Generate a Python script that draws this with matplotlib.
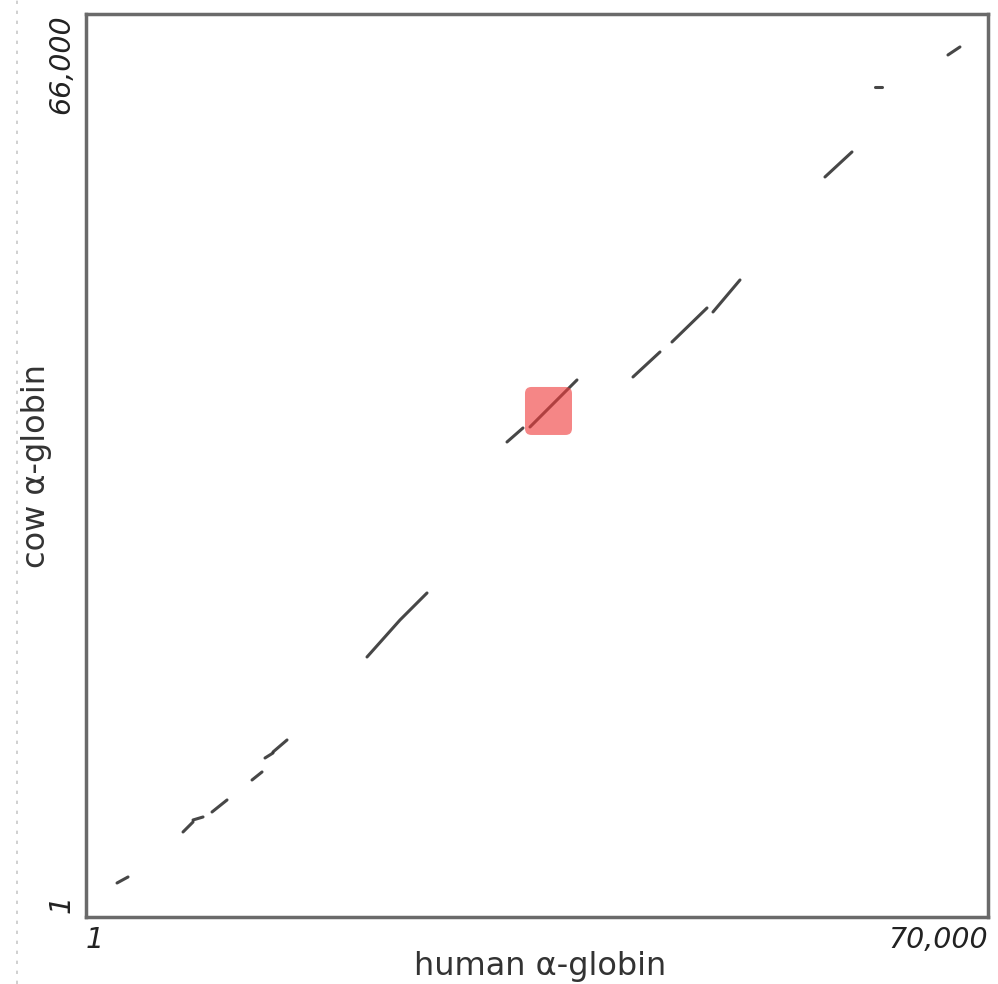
import matplotlib.pyplot as plt
import numpy as np
from matplotlib.patches import FancyBboxPatch
from matplotlib.lines import Line2D

# dot plot alignment segments (human position, cow position)
seg_x = [
    [2406, 3259],
    [7527, 8303],
    [8303, 9079],
    [9778, 10942],
    [12882, 13658],
    [13890, 14511],
    [14511, 15598],
    [21806, 24366, 26462],
    [32670, 33911],
    [34454, 38101],
    [42447, 44542],
    [45474, 48190],
    [48656, 50751],
    [57346, 59442],
    [61226, 61770],
    [66891, 67822],
]
seg_y = [
    [2485, 2924],
    [6213, 6944],
    [7090, 7309],
    [7675, 8552],
    [10013, 10598],
    [11621, 11987],
    [12060, 12937],
    [19003, 21708, 23681],
    [34718, 35741],
    [35815, 39250],
    [39469, 41296],
    [42027, 44512],
    [44220, 46559],
    [54087, 55914],
    [60665, 60665],
    [63004, 63589],
]

# highlighted region
box_x = [34066, 37714]
box_y = [35230, 38738]

x_max = 70000
y_max = 66000

fig = plt.figure(figsize=(9.98, 9.84), dpi=100)
ax = fig.add_axes([0.0862, 0.0681, 0.9038, 0.9177])
ax.set_xlim(0, x_max)
ax.set_ylim(0, y_max)

for xs, ys in zip(seg_x, seg_y):
    ax.plot(xs, ys, color='#333333', lw=2.2, solid_capstyle='round', alpha=0.9)

asp = (y_max / 903) / (x_max / 902)
box = FancyBboxPatch((box_x[0], box_y[0]), box_x[1] - box_x[0], box_y[1] - box_y[0],
                     boxstyle='round,pad=0,rounding_size=500', mutation_aspect=asp,
                     facecolor='#f03c3c', alpha=0.62, edgecolor='none', zorder=3)
ax.add_patch(box)

for s in ax.spines.values():
    s.set_color('#6a6a6a')
    s.set_linewidth(2.5)

ax.set_xticks([])
ax.set_yticks([])

tick_font = dict(fontsize=20.5, style='italic', color='#222222')
ax.text(0.0, -0.01, '1', transform=ax.transAxes, ha='left', va='top', **tick_font)
ax.text(1.0, -0.01, '70,000', transform=ax.transAxes, ha='right', va='top', **tick_font)
ax.text(-0.012, 0.015, '1', transform=ax.transAxes, ha='right', va='center', rotation=90, **tick_font)
ax.text(-0.012, 1.0, '66,000', transform=ax.transAxes, ha='right', va='top', rotation=90, **tick_font)

fig.text(540 / 998, 1 - 966 / 984, 'human α-globin', ha='center', va='center',
         fontsize=23, color='#333333')
fig.text(37 / 998, 1 - 466 / 984, 'cow α-globin', ha='center', va='center',
         rotation=90, fontsize=23, color='#333333')

fig.add_artist(Line2D([17 / 998, 17 / 998], [0, 1], color='#c8c8c8', lw=1.2,
                      linestyle=(0, (2, 4))))

fig.savefig('out.png', dpi=100)
